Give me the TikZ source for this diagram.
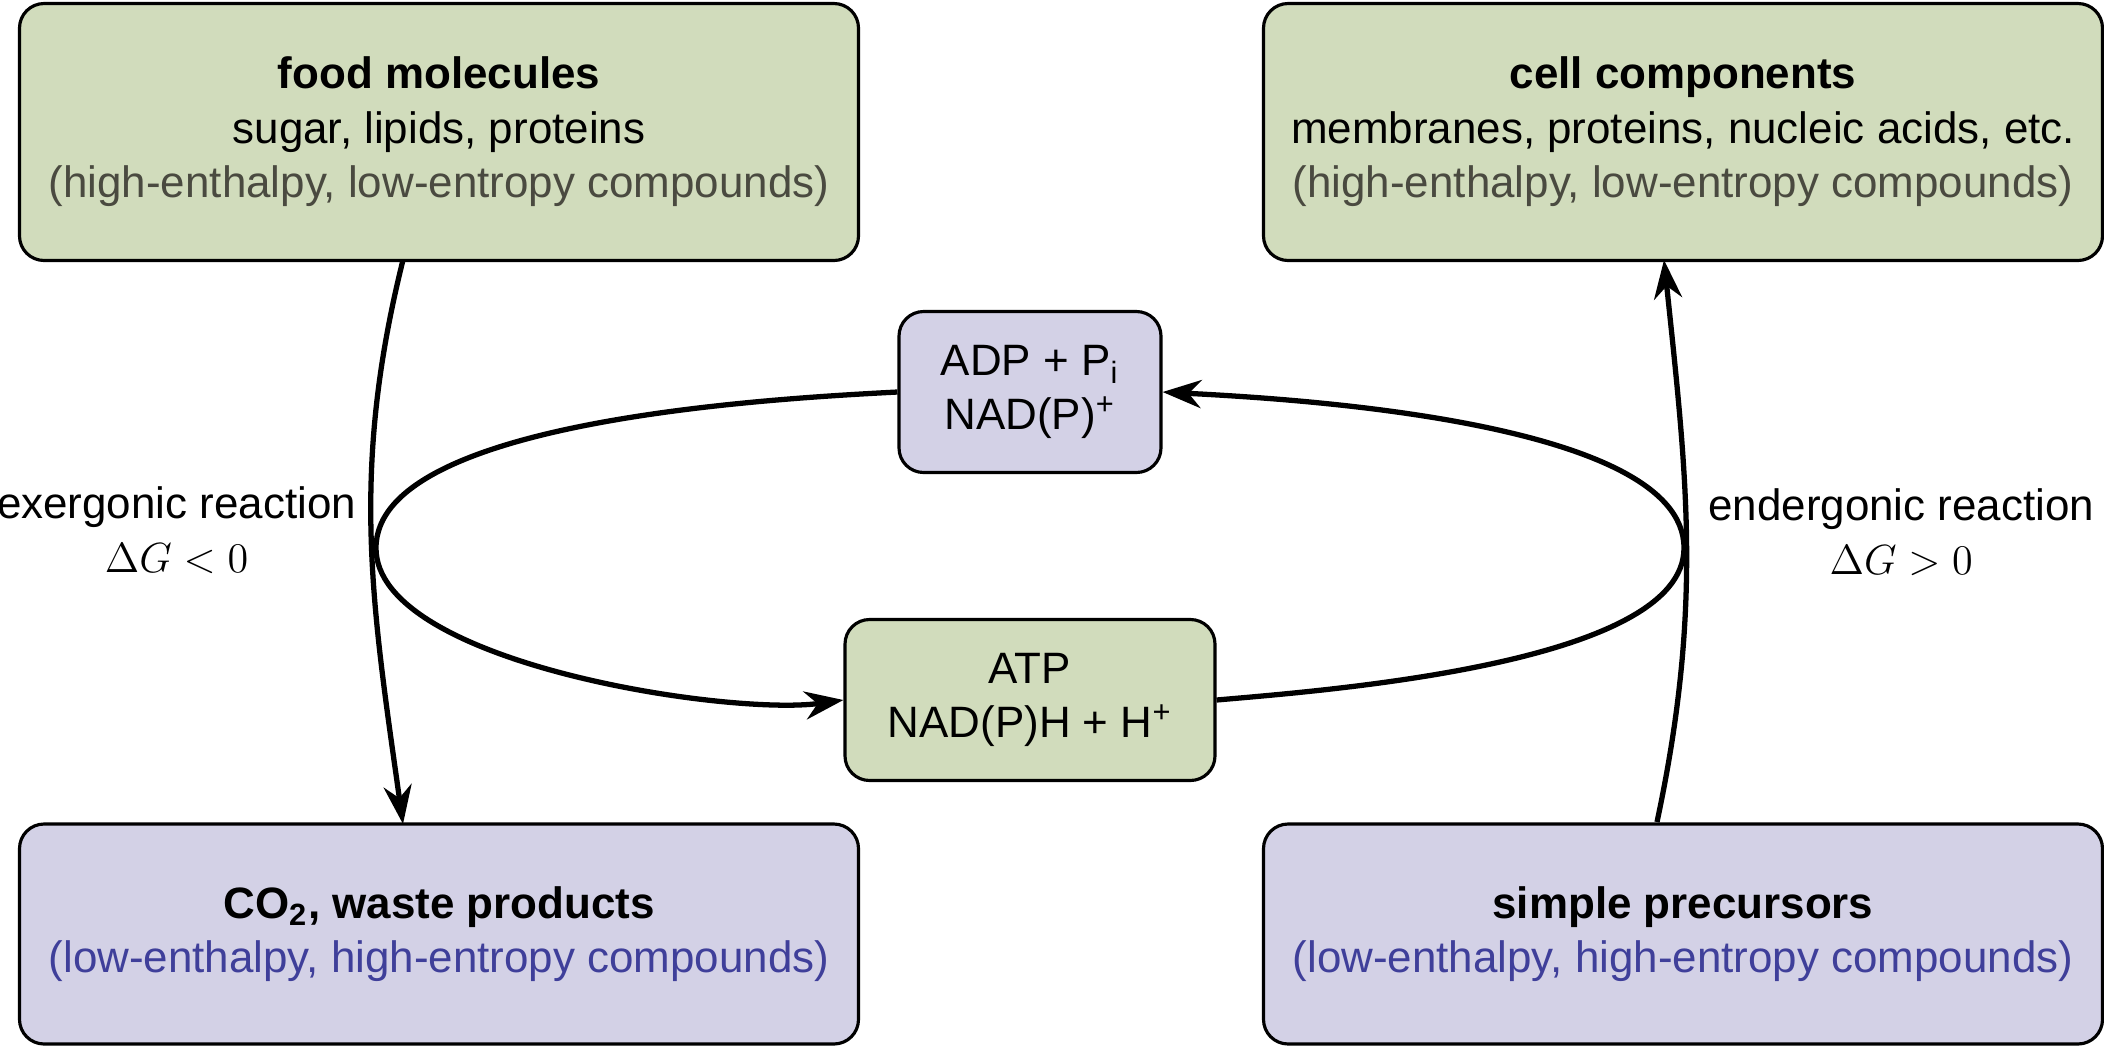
\documentclass[tikz,border=0pt]{standalone}
\usepackage{fontspec}
\setmainfont{Liberation Sans}
\usetikzlibrary{positioning,arrows.meta}
\definecolor{boxgreen}{HTML}{D1DCBC}
\definecolor{boxviolet}{HTML}{D3D1E6}
\definecolor{txtgray}{HTML}{4A4A40}
\definecolor{txtblue}{HTML}{3F3F9A}

\begin{document}
\begin{tikzpicture}[
    >={Stealth[length=11pt,width=8pt]},
    box/.style={
        draw,
        line width=0.9pt,
        rounded corners=7pt,
        align=center,
        font=\fontsize{12.5}{15.5}\selectfont
    },
    big/.style={box, minimum width=8.39cm, minimum height=2.57cm},
    small/.style={box, minimum height=1.61cm},
    flow/.style={->, line width=1.5pt},
    lbl/.style={font=\fontsize{12.5}{15.5}\selectfont, align=center}
]
    \useasboundingbox (0,0) rectangle (21.04,-10.47);

    % Compostos ricos em energia (em cima)
    \node[big, fill=boxgreen] (food) at (4.39,-1.32)
        {\textbf{food molecules}\\ sugar, lipids, proteins\\
         \textcolor{txtgray}{(high-enthalpy, low-entropy compounds)}};
    \node[big, fill=boxgreen] (cell) at (16.83,-1.32)
        {\textbf{cell components}\\ membranes, proteins, nucleic acids, etc.\\
         \textcolor{txtgray}{(high-enthalpy, low-entropy compounds)}};

    % Compostos pobres em energia (em baixo)
    \node[big, fill=boxviolet, minimum height=2.2cm] (waste) at (4.39,-9.34)
        {\textbf{CO\textsubscript{2}, waste products}\\
         \textcolor{txtblue}{(low-enthalpy, high-entropy compounds)}};
    \node[big, fill=boxviolet, minimum height=2.2cm] (precursors) at (16.83,-9.34)
        {\textbf{simple precursors}\\
         \textcolor{txtblue}{(low-enthalpy, high-entropy compounds)}};

    % Transportadores no meio
    \node[small, fill=boxviolet, minimum width=2.62cm] (adp) at (10.30,-3.92)
        {ADP + P\textsubscript{i}\\ NAD(P)\textsuperscript{+}};
    \node[small, fill=boxgreen, minimum width=3.70cm] (atp) at (10.30,-7.00)
        {ATP\\ NAD(P)H + H\textsuperscript{+}};

    % Pontos de passagem do ciclo
    \coordinate (leftturn) at (3.76,-5.48);
    \coordinate (rightturn) at (16.84,-5.48);
    \coordinate (foodout) at (4.03,-2.60);
    \coordinate (wastein) at (4.03,-8.24);
    \coordinate (precout) at (16.57,-8.22);
    \coordinate (cellin) at (16.64,-2.60);

    % Reacoes acopladas
    \draw[flow] (foodout) to[out=-104,in=98] node[lbl, xshift=-1.95cm, yshift=0.1cm]
        {exergonic reaction\\ $\Delta G<0$} (wastein);
    \draw[flow] (precout) to[out=78,in=-84] node[lbl, xshift=2.15cm, yshift=0.1cm]
        {endergonic reaction\\ $\Delta G>0$} (cellin);

    % Ciclo ATP / ADP
    \draw[flow] (adp.west) to[out=183,in=90,looseness=0.6] (leftturn)
        to[out=-90,in=188,looseness=0.6] (atp.west);
    \draw[flow] (atp.east) to[out=5,in=-90,looseness=0.6] (rightturn)
        to[out=90,in=-3,looseness=0.6] (adp.east);
\end{tikzpicture}
\end{document}
